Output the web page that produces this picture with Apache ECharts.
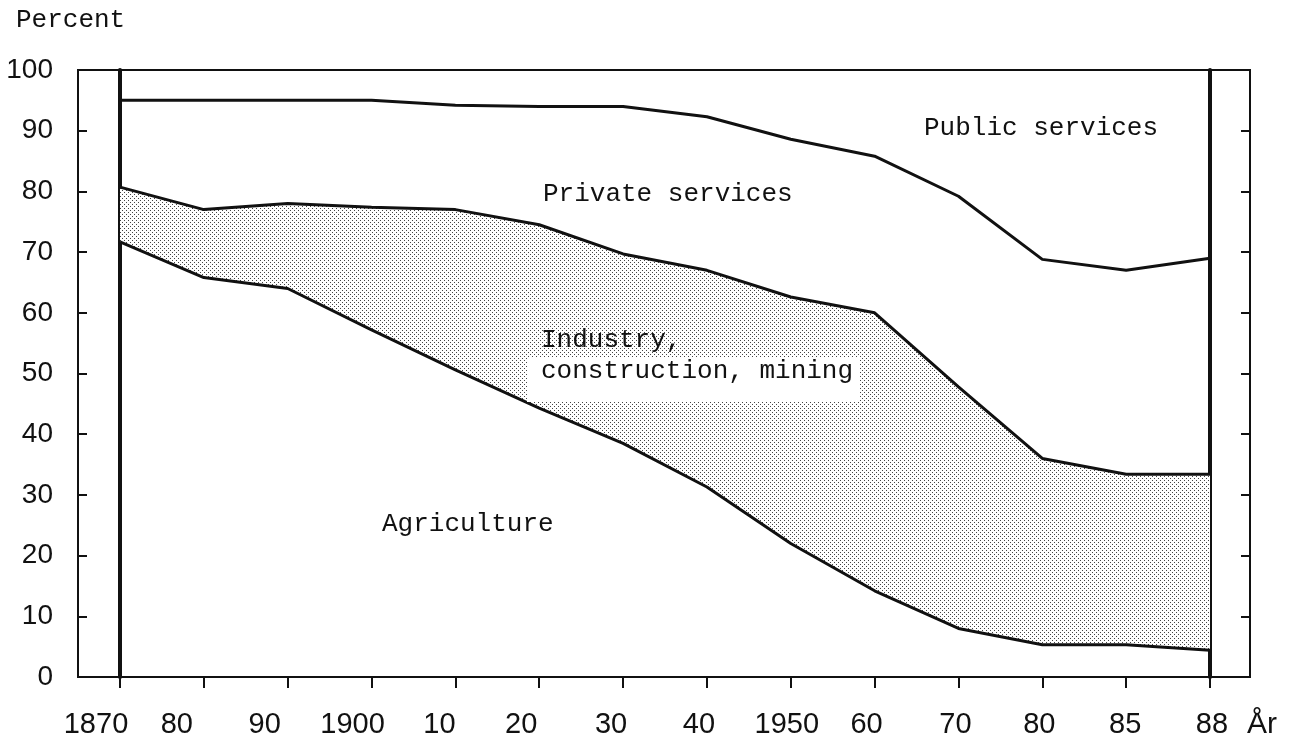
<!DOCTYPE html>
<html lang="en">
<head>
  <meta charset="UTF-8">
  <title>Employment by sector</title>
  <style>
    * { margin: 0; padding: 0; }
    body { background: #fff; overflow: hidden; }
    #chart { width: 1300px; height: 741px; }
  </style>
</head>
<body>
  <div id="chart"></div>
  <script src="https://cdn.jsdelivr.net/npm/echarts@6/dist/echarts.min.js"></script>
  <script>
    // years on the x axis (evenly spaced in the original)
    const years = ['1870', '80', '90', '1900', '10', '20', '30', '40', '1950', '60', '70', '80', '85', '88'];

    // upper edge of each band, in percent
    const agriculture = [71.7, 65.8, 64, 57.2, 50.6, 44.3, 38.5, 31.3, 22, 14.2, 8, 5.3, 5.3, 4.4];
    const industryTop = [80.7, 77, 78, 77.4, 77, 74.5, 69.7, 67, 62.6, 60, 47.8, 36, 33.4, 33.4];
    const privateTop  = [95, 95, 95, 95, 94.2, 94, 94, 92.3, 88.6, 85.8, 79.2, 68.8, 67, 69];

    // the typeset year labels sit a little left of their ticks (px, layout only)
    const labelNudge = [-24, -27, -23, -19, -16, -18, -12, -8, -4, -8, -3, -3, -1, 2];

    const mono = '"Liberation Mono", "DejaVu Sans Mono", monospace';
    const sans = '"Liberation Sans", Arial, sans-serif';

    // dotted screen for the industry band
    const dots = document.createElement('canvas');
    dots.width = 4;
    dots.height = 4;
    const dctx = dots.getContext('2d');
    dctx.fillStyle = '#fff';
    dctx.fillRect(0, 0, 4, 4);
    dctx.fillStyle = '#444';
    dctx.fillRect(0, 0, 1, 1);
    dctx.fillRect(2, 2, 1, 1);

    const industryBand = industryTop.map((v, i) => +(v - agriculture[i]).toFixed(2));
    const privateBand = privateTop.map((v, i) => +(v - industryTop[i]).toFixed(2));

    const rich = {};
    labelNudge.forEach((d, i) => {
      rich['o' + i] = {
        fontFamily: sans, fontSize: 29, color: '#111',
        padding: d < 0 ? [0, -2 * d, 0, 0] : [0, 0, 0, 2 * d]
      };
    });

    const chart = echarts.init(document.getElementById('chart'));
    chart.setOption({
      animation: false,
      backgroundColor: '#fff',
      grid: [
        { left: 120, right: 90, top: 70, bottom: 64 },
        { left: 78, right: 50, top: 70, bottom: 64, show: true, borderColor: '#111', borderWidth: 2, backgroundColor: 'transparent' }
      ],
      xAxis: [
        {
          type: 'category', gridIndex: 0, data: years, boundaryGap: false,
          axisLine: { show: false },
          axisTick: { show: true, inside: false, length: 11, lineStyle: { color: '#111', width: 2 } },
          axisLabel: {
            interval: 0, margin: 33, rich: rich,
            formatter: (value, index) => '{o' + index + '|' + value + '}'
          },
          name: 'År', nameLocation: 'end', nameGap: 37,
          nameTextStyle: { fontFamily: sans, fontSize: 30, color: '#111', verticalAlign: 'top', padding: [33, 0, 0, 0] }
        },
        { type: 'value', gridIndex: 1, show: false, min: 0, max: 1 }
      ],
      yAxis: [
        {
          type: 'value', gridIndex: 0, min: 0, max: 100, position: 'left',
          axisLine: { show: true, lineStyle: { color: '#111', width: 4 } },
          axisTick: { show: false }, axisLabel: { show: false }, splitLine: { show: false }
        },
        {
          type: 'value', gridIndex: 0, min: 0, max: 100, position: 'right',
          axisLine: { show: true, lineStyle: { color: '#111', width: 4 } },
          axisTick: { show: false }, axisLabel: { show: false }, splitLine: { show: false }
        },
        {
          type: 'value', gridIndex: 1, min: 0, max: 100, interval: 10, position: 'left',
          axisLine: { show: false },
          axisTick: { show: true, inside: true, length: 9, lineStyle: { color: '#111', width: 2 } },
          axisLabel: { fontFamily: sans, fontSize: 28, color: '#111', margin: 25, padding: [0, 0, 6, 0] },
          splitLine: { show: false }
        },
        {
          type: 'value', gridIndex: 1, min: 0, max: 100, interval: 10, position: 'right',
          axisLine: { show: false },
          axisTick: { show: true, inside: true, length: 9, lineStyle: { color: '#111', width: 2 } },
          axisLabel: { show: false }, splitLine: { show: false }
        }
      ],
      series: [
        {
          name: 'Agriculture', type: 'line', stack: 'all', data: agriculture,
          xAxisIndex: 0, yAxisIndex: 0, symbol: 'none',
          lineStyle: { color: '#111', width: 3 }
        },
        {
          name: 'Industry, construction, mining', type: 'line', stack: 'all', data: industryBand,
          xAxisIndex: 0, yAxisIndex: 0, symbol: 'none',
          lineStyle: { color: '#111', width: 3 },
          areaStyle: { color: { image: dots, repeat: 'repeat' }, opacity: 1 }
        },
        {
          name: 'Private services', type: 'line', stack: 'all', data: privateBand,
          xAxisIndex: 0, yAxisIndex: 0, symbol: 'none',
          lineStyle: { color: '#111', width: 3 }
        }
      ],
      graphic: [
        { type: 'text', left: 16, top: 7, style: { text: 'Percent', font: '26px ' + mono, fill: '#111' } },
        { type: 'text', left: 924, top: 115, style: { text: 'Public services', font: '26px ' + mono, fill: '#111' } },
        { type: 'text', left: 543, top: 181, style: { text: 'Private services', font: '26px ' + mono, fill: '#111' } },
        { type: 'text', left: 541, top: 327, z: 10, style: { text: 'Industry,', font: '26px ' + mono, fill: '#111' } },
        {
          type: 'text', left: 527, top: 358, z: 10,
          style: { text: 'construction, mining', font: '26px ' + mono, fill: '#111', backgroundColor: '#fff', padding: [0, 6, 18, 14] }
        },
        { type: 'text', left: 382, top: 511, style: { text: 'Agriculture', font: '26px ' + mono, fill: '#111' } }
      ]
    });
  </script>
</body>
</html>
